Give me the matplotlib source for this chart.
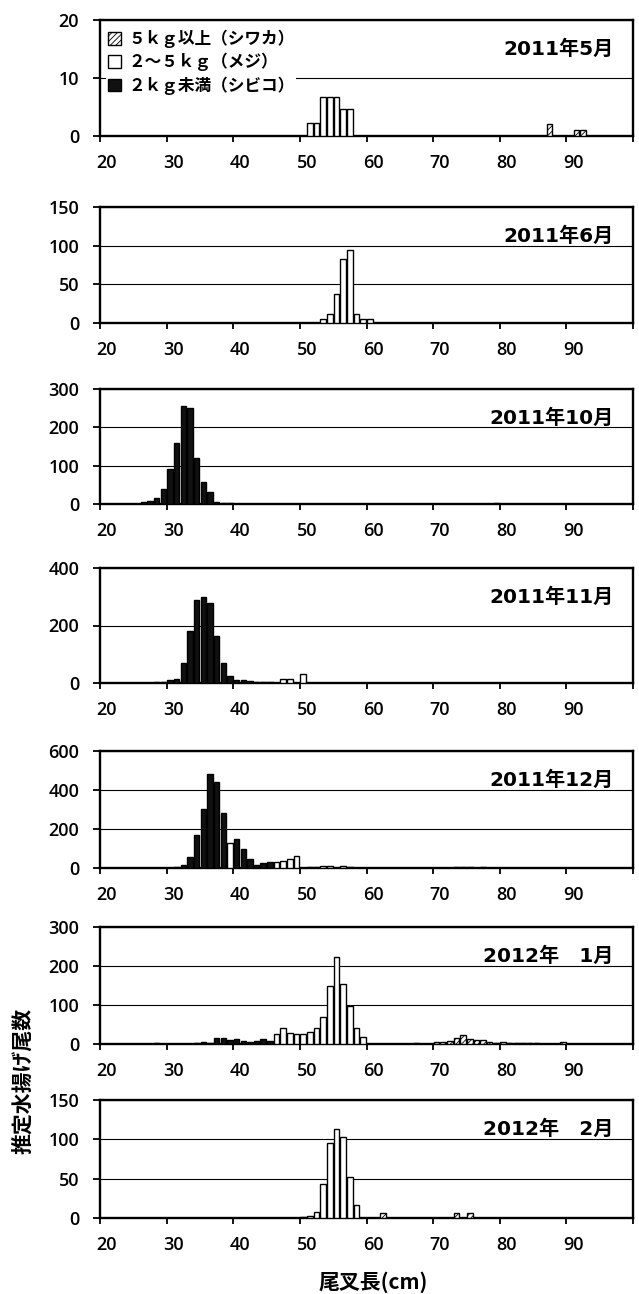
import matplotlib.pyplot as plt
from matplotlib.patches import Patch
from matplotlib.transforms import ScaledTranslation

plt.rcParams['font.family'] = ['Open Sans', 'Noto Sans CJK JP', 'DejaVu Sans']
plt.rcParams['font.weight'] = 'semibold'
plt.rcParams['hatch.linewidth'] = 0.6

JP_FONT = ['Noto Sans CJK JP', 'DejaVu Sans']
TITLE_FONT = ['DejaVu Sans', 'Noto Sans CJK JP']

# size classes
class_labels = ['５ｋｇ以上（シワカ）', '２～５ｋｇ（メジ）', '２ｋｇ未満（シビコ）']

# estimated landings by fork length (cm) -> count, per month and size class
may_shiwaka = {87: 2, 91: 1, 92: 1}
may_meji = {51: 2.2, 52: 2.2, 53: 6.7, 54: 6.7, 55: 6.7, 56: 4.6, 57: 4.6}
may_shibiko = {}

jun_shiwaka = {}
jun_meji = {53: 5, 54: 11, 55: 37, 56: 83, 57: 94, 58: 11, 59: 5, 60: 5}
jun_shibiko = {}

oct_shiwaka = {79: 2}
oct_meji = {}
oct_shibiko = {25: 1, 26: 4, 27: 8, 28: 15, 29: 40, 30: 90, 31: 160, 32: 255,
               33: 250, 34: 120, 35: 57, 36: 32, 37: 4, 38: 3, 39: 2}

nov_shiwaka = {}
nov_meji = {47: 15, 48: 15, 50: 30}
nov_shibiko = {28: 2, 29: 2, 30: 10, 31: 15, 32: 70, 33: 180, 34: 290, 35: 300,
               36: 280, 37: 165, 38: 70, 39: 25, 40: 10, 41: 10, 42: 8, 43: 5,
               44: 5, 45: 2}

dec_shiwaka = {73: 5, 74: 5, 75: 5, 77: 5}
dec_meji = {39: 130, 46: 30, 47: 35, 48: 45, 49: 60, 51: 3, 52: 5, 53: 10,
            54: 10, 56: 10, 57: 4}
dec_shibiko = {31: 5, 32: 15, 33: 55, 34: 170, 35: 305, 36: 480, 37: 440,
               38: 280, 40: 150, 41: 95, 42: 45, 43: 15, 44: 25, 45: 30}

jan_shiwaka = {67: 2, 70: 5, 71: 5, 72: 8, 73: 15, 74: 22, 75: 12, 76: 10,
               77: 10, 78: 5, 79: 3, 80: 5, 81: 3, 82: 3, 83: 3, 84: 2, 85: 3,
               89: 5}
jan_meji = {46: 25, 47: 42, 48: 28, 49: 25, 50: 25, 51: 30, 52: 42, 53: 68,
            54: 150, 55: 222, 56: 153, 57: 97, 58: 42, 59: 18}
jan_shibiko = {28: 3, 34: 3, 35: 6, 36: 3, 37: 15, 38: 15, 39: 10, 40: 12,
               41: 8, 42: 6, 43: 8, 44: 12, 45: 8}

feb_shiwaka = {62: 6, 73: 6, 75: 6}
feb_meji = {50: 1, 51: 2, 52: 7, 53: 43, 54: 95, 55: 113, 56: 103, 57: 52,
            58: 17}
feb_shibiko = {}

month_titles = ['2011年5月', '2011年6月', '2011年10月', '2011年11月',
                '2011年12月', '2012年　1月', '2012年　2月']
y_max = [20, 150, 300, 400, 600, 300, 150]
y_step = [10, 50, 100, 200, 200, 100, 50]
x_ticks = [20, 30, 40, 50, 60, 70, 80, 90, 100]
x_tick_labels = ['20', '30', '40', '50', '60', '70', '80', '90', '']

monthly = [
    (may_shibiko, may_meji, may_shiwaka),
    (jun_shibiko, jun_meji, jun_shiwaka),
    (oct_shibiko, oct_meji, oct_shiwaka),
    (nov_shibiko, nov_meji, nov_shiwaka),
    (dec_shibiko, dec_meji, dec_shiwaka),
    (jan_shibiko, jan_meji, jan_shiwaka),
    (feb_shibiko, feb_meji, feb_shiwaka),
]

# bar styles, stacked bottom to top: shibiko, meji, shiwaka
styles = [
    dict(facecolor='#111111', edgecolor='black', hatch=None),
    dict(facecolor='white', edgecolor='black', hatch=None),
    dict(facecolor='white', edgecolor='black', hatch='//////'),
]

W, H = 639, 1294
# panel (top, bottom) in pixels
panel_px = [(20, 136), (207, 323), (389, 504), (568, 683),
            (751, 868), (927, 1044), (1100, 1218)]
left_px, right_px = 100, 633

fig = plt.figure(figsize=(W / 100, H / 100), dpi=100)

axes = []
for i, (top, bot) in enumerate(panel_px):
    ax = fig.add_axes([left_px / W, 1 - bot / H,
                       (right_px - left_px) / W, (bot - top) / H])
    axes.append(ax)

    bottoms = {}
    for counts, st in zip(monthly[i], styles):
        if not counts:
            continue
        lengths = sorted(counts)
        vals = [counts[k] for k in lengths]
        base = [bottoms.get(k, 0) for k in lengths]
        ax.bar([k + 0.5 for k in lengths], vals, width=0.82, bottom=base,
               facecolor=st['facecolor'], edgecolor=st['edgecolor'],
               hatch=st['hatch'], linewidth=1.0, zorder=3)
        for k, v in zip(lengths, vals):
            bottoms[k] = bottoms.get(k, 0) + v

    ax.set_xlim(20, 100)
    ax.set_ylim(0, y_max[i])
    ax.set_yticks(range(0, y_max[i] + 1, y_step[i]))
    ax.set_xticks(x_ticks)
    ax.set_xticklabels(x_tick_labels)
    ax.tick_params(axis='y', direction='out', length=5, width=1.3,
                   labelsize=13, pad=10)
    ax.tick_params(axis='x', direction='out', length=4, width=1.3,
                   labelsize=13, pad=9)
    for lab in ax.get_xticklabels():
        lab.set_transform(lab.get_transform() +
                          ScaledTranslation(5 / 72, 0, fig.dpi_scale_trans))
    ax.yaxis.grid(True, color='black', linewidth=0.8)
    ax.set_axisbelow(True)
    for sp in ax.spines.values():
        sp.set_linewidth(1.7)
        sp.set_color('black')

    ax.text(0.964, 1 - 29 / (bot - top), month_titles[i], transform=ax.transAxes,
            ha='right', va='center', fontsize=14.5, fontweight='bold',
            family=TITLE_FONT, zorder=5)

handles = [Patch(facecolor=styles[2]['facecolor'], edgecolor='black',
                 hatch=styles[2]['hatch'], linewidth=1.0),
           Patch(facecolor=styles[1]['facecolor'], edgecolor='black',
                 linewidth=1.0),
           Patch(facecolor=styles[0]['facecolor'], edgecolor='black',
                 linewidth=1.0)]
leg = axes[0].legend(handles, class_labels, loc='upper left',
                     bbox_to_anchor=(0.012, 0.93), frameon=True,
                     facecolor='white', edgecolor='none', framealpha=1,
                     fancybox=False, borderpad=0.1, borderaxespad=0,
                     handlelength=0.8, handleheight=0.8, handletextpad=0.4,
                     labelspacing=0.3,
                     prop={'family': JP_FONT, 'size': 12, 'weight': 'bold'})
leg.set_zorder(6)

fig.text(23 / W, 1 - 1081 / H, '推定水揚げ尾数', rotation=90, ha='center',
         va='center', fontsize=15, fontweight='bold', family=JP_FONT)
fig.text(373 / W, 1 - 1282 / H, '尾叉長(cm)', ha='center', va='center',
         fontsize=15, fontweight='bold', family=JP_FONT)

fig.savefig('out.png', dpi=100, facecolor='white')
